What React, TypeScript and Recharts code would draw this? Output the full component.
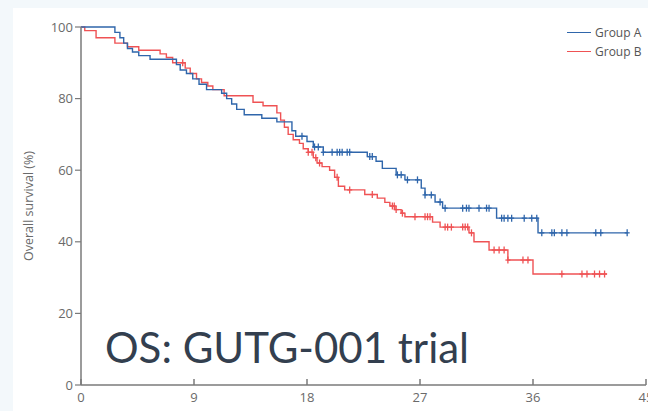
import React from 'react'
import { ComposedChart, Line, Scatter, XAxis, YAxis } from 'recharts'

// Kaplan-Meier steps (months, % surviving)
const groupATimes = [0, 2.7, 3.1, 3.4, 3.7, 4.1, 4.6, 5.5, 7.6, 7.9, 8.4, 8.9, 9.4, 10.0, 11.2, 11.6, 12.0, 12.4, 13.0, 14.4, 15.6, 16.8, 17.1, 18.0, 18.5, 19.3, 22.8, 23.5, 24.0, 25.1, 25.8, 27.1, 27.4, 28.2, 28.8, 33.1, 36.4, 43.5]
const groupASurvival = [100, 98.5, 97, 95.5, 94, 93, 92, 91, 89.5, 88, 87, 85.5, 84, 82.5, 81.5, 80, 78.5, 77, 75.5, 74.5, 73.5, 71, 69.5, 68, 66.5, 65, 63.8, 62.5, 60.5, 58.7, 57.3, 55, 53.1, 51.1, 49.4, 46.6, 42.5, 42.5]
const groupACensored = [17.6, 18.6, 18.9, 19.3, 20.0, 20.4, 20.6, 20.8, 21.2, 21.4, 23.0, 23.2, 25.2, 25.5, 26.0, 26.8, 27.4, 27.9, 28.6, 29.0, 30.4, 30.7, 30.9, 31.7, 32.3, 32.5, 33.5, 33.7, 34.0, 34.3, 35.3, 35.9, 36.3, 36.7, 37.5, 37.7, 38.3, 38.7, 41.0, 41.4, 43.5]

const groupBTimes = [0, 0.3, 1.2, 2.7, 3.7, 4.6, 6.3, 6.8, 7.3, 8.3, 8.7, 9.2, 9.6, 10.1, 10.5, 11.4, 13.7, 14.5, 15.6, 15.9, 16.2, 16.5, 16.9, 17.4, 17.7, 18.1, 18.5, 18.8, 19.2, 19.8, 20.2, 20.5, 21.0, 22.6, 23.6, 24.2, 24.6, 25.0, 25.5, 25.8, 28.0, 28.6, 30.9, 31.3, 32.5, 34.0, 36.0, 41.9]
const groupBSurvival = [100, 99, 97, 95.5, 94.5, 93.5, 92.5, 91.5, 90, 88.5, 87, 85.5, 84.5, 83.5, 82.5, 80.8, 79, 78, 76, 74, 72, 70, 68.5, 67.5, 66, 65, 63.5, 62, 61, 60, 58, 55.5, 54.5, 53.2, 52.2, 51, 50, 49, 48, 47, 45.5, 44.1, 42.5, 40, 37.7, 34.9, 31, 31]
const groupBCensored = [8.1, 18.1, 18.4, 18.7, 19.0, 20.4, 21.4, 23.2, 24.8, 24.95, 25.1, 25.6, 26.6, 27.4, 27.6, 27.8, 29.0, 29.2, 29.5, 30.4, 30.6, 30.8, 31.1, 32.9, 33.3, 33.7, 34.0, 35.2, 35.6, 38.3, 39.9, 40.3, 40.9, 41.3, 41.7]

const xTicks = [0, 9, 18, 27, 36, 45]
const yTicks = [0, 20, 40, 60, 80, 100]

const BLUE = '#2f66ab'
const RED = '#ef5254'
const AXIS = '#7a7a7a'
const FONT = '"Open Sans", sans-serif'

const steps = (times: number[], surv: number[]) => times.map((t, i) => ({ t, s: surv[i] }))

const survivalAt = (times: number[], surv: number[], t: number) => {
  let s = surv[0]
  times.forEach((tt, i) => {
    if (tt <= t) s = surv[i]
  })
  return s
}

const censorPoints = (cens: number[], times: number[], surv: number[]) =>
  cens.map((t) => ({ t, s: survivalAt(times, surv, t) }))

const stepsA = steps(groupATimes, groupASurvival)
const stepsB = steps(groupBTimes, groupBSurvival)
const censA = censorPoints(groupACensored, groupATimes, groupASurvival)
const censB = censorPoints(groupBCensored, groupBTimes, groupBSurvival)

const censorMark = (color: string) => (props: any) => {
  const { cx, cy } = props
  return (
    <g>
      <line x1={cx} x2={cx} y1={cy - 3.5} y2={cy + 3.5} stroke={color} strokeWidth={1.3} />
      <line x1={cx - 2.5} x2={cx + 2.5} y1={cy} y2={cy} stroke={color} strokeWidth={1.3} />
    </g>
  )
}

const XTick = (props: any) => {
  const { x, y, payload } = props
  return (
    <g>
      <line x1={x} x2={x} y1={y - 6} y2={y} stroke={AXIS} strokeWidth={1.5} />
      <text x={x} y={y + 17} textAnchor="middle" fill="#6a6a6a" fontSize={13} fontFamily={FONT}>
        {payload.value}
      </text>
    </g>
  )
}

export default function App() {
  return (
    <div style={{ position: 'absolute', left: 0, top: 0, width: 648, height: 411, background: '#f3f8fb', overflow: 'hidden' }}>
      <div style={{ position: 'absolute', left: 13, top: 8, width: 635, height: 403, background: '#ffffff' }} />
      <div style={{ position: 'absolute', left: 0, top: 0 }}>
        <ComposedChart width={648} height={411} margin={{ top: 27, right: 2, bottom: 0, left: 0 }}>
          <XAxis
            dataKey="t"
            type="number"
            domain={[0, 45]}
            ticks={xTicks}
            interval={0}
            allowDataOverflow
            height={26}
            tickSize={0}
            tickMargin={0}
            tickLine={false}
            tick={<XTick />}
            axisLine={{ stroke: AXIS, strokeWidth: 1.5 }}
          />
          <YAxis
            type="number"
            domain={[0, 100]}
            ticks={yTicks}
            interval={0}
            width={81}
            tickSize={6}
            tickMargin={2}
            tickLine={{ stroke: AXIS, strokeWidth: 1.2 }}
            axisLine={{ stroke: AXIS, strokeWidth: 1.5 }}
            tick={{ fill: '#6a6a6a', fontSize: 13, fontFamily: FONT }}
            label={{
              value: 'Overall survival (%)',
              angle: -90,
              position: 'insideLeft',
              offset: 29,
              style: { textAnchor: 'middle', fill: '#6a6a6a', fontSize: 12.5, fontFamily: FONT },
            }}
          />
          <Line data={stepsB} dataKey="s" type="stepAfter" stroke={RED} strokeWidth={1.4} dot={false} isAnimationActive={false} />
          <Line data={stepsA} dataKey="s" type="stepAfter" stroke={BLUE} strokeWidth={1.4} dot={false} isAnimationActive={false} />
          <Scatter data={censB} dataKey="s" shape={censorMark(RED)} isAnimationActive={false} />
          <Scatter data={censA} dataKey="s" shape={censorMark(BLUE)} isAnimationActive={false} />
        </ComposedChart>
      </div>
      <div style={{ position: 'absolute', left: 567, top: 23, fontFamily: FONT, fontSize: 12, color: '#555', lineHeight: '19px' }}>
        {[['Group A', BLUE], ['Group B', RED]].map(([name, color]) => (
          <div key={name} style={{ display: 'flex', alignItems: 'center' }}>
            <span style={{ display: 'inline-block', width: 24, height: 0, borderTop: `1.4px solid ${color}`, marginRight: 4 }} />
            {name}
          </div>
        ))}
      </div>
      <div style={{ position: 'absolute', left: 105, top: 322, fontFamily: 'Lato, sans-serif', fontSize: 42, color: '#333f4f', whiteSpace: 'nowrap' }}>
        OS: GUTG-001 trial
      </div>
    </div>
  )
}
